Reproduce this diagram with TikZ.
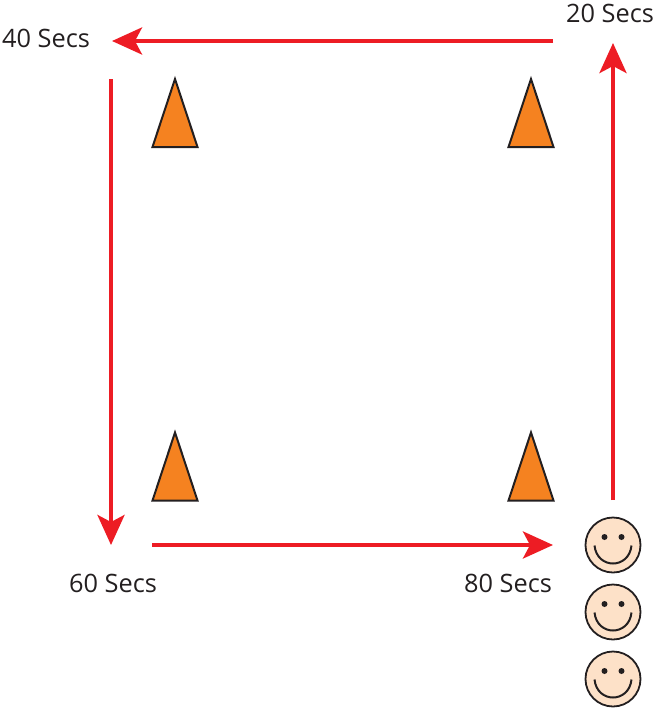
\documentclass[tikz,border=0pt]{standalone}
\usepackage{fontspec}
\setmainfont{Open Sans}
\usetikzlibrary{arrows.meta}
\definecolor{rd}{RGB}{237,28,36}
\definecolor{cone}{RGB}{245,130,32}
\definecolor{skin}{RGB}{253,225,200}
\definecolor{ink}{RGB}{35,31,32}
\tikzset{x=0.75pt,y=-0.75pt,
 run/.style={draw=rd,line width=4pt*0.75,-{Stealth[length=30pt*0.75,width=27pt*0.75,inset=7pt*0.75]}},
 lab/.style={font=\fontsize{19pt}{22pt}\selectfont,text=ink,inner sep=0pt,anchor=base},
 conestyle/.style={fill=cone,draw=ink,line width=2pt*0.75,line join=miter}}
\newcommand{\conept}[2]{\draw[conestyle] (#1-22.5,#2) -- (#1,#2-68) -- (#1+22.5,#2) -- cycle;}
\newcommand{\happyface}[2]{%
 \draw[fill=skin,draw=ink,line width=1.8pt*0.75] (#1,#2) circle (27.5);
 \fill[ink] (#1-8.5,#2-8) circle (3);
 \fill[ink] (#1+8.5,#2-8) circle (3);
 \draw[ink,line width=2pt*0.75] (#1-18.5,#2+0.5) .. controls (#1-16,#2+24.5) and (#1+16,#2+24.5) .. (#1+18.5,#2+0.5);}
\begin{document}
\begin{tikzpicture}
\useasboundingbox (0,0) rectangle (655,708);
\coordinate (a1) at (613,500); \coordinate (a2) at (613,43);
\coordinate (b1) at (553,41); \coordinate (b2) at (112,41);
\coordinate (c1) at (111,79); \coordinate (c2) at (111,545);
\coordinate (d1) at (152,545); \coordinate (d2) at (553,545);
\draw[run] (a1)--(a2);
\draw[run] (b1)--(b2);
\draw[run] (c1)--(c2);
\draw[run] (d1)--(d2);
\conept{175}{147}\conept{531}{147}\conept{175}{500.5}\conept{531}{500.5}
\happyface{613}{545}\happyface{613}{612}\happyface{613}{679}
\node[lab] (t20) at (610,22) {20 Secs};
\node[lab] (t40) at (46,47.5) {40 Secs};
\node[lab] (t60) at (113,592.5) {60 Secs};
\node[lab] (t80) at (508,592.5) {80 Secs};
\end{tikzpicture}
\end{document}
